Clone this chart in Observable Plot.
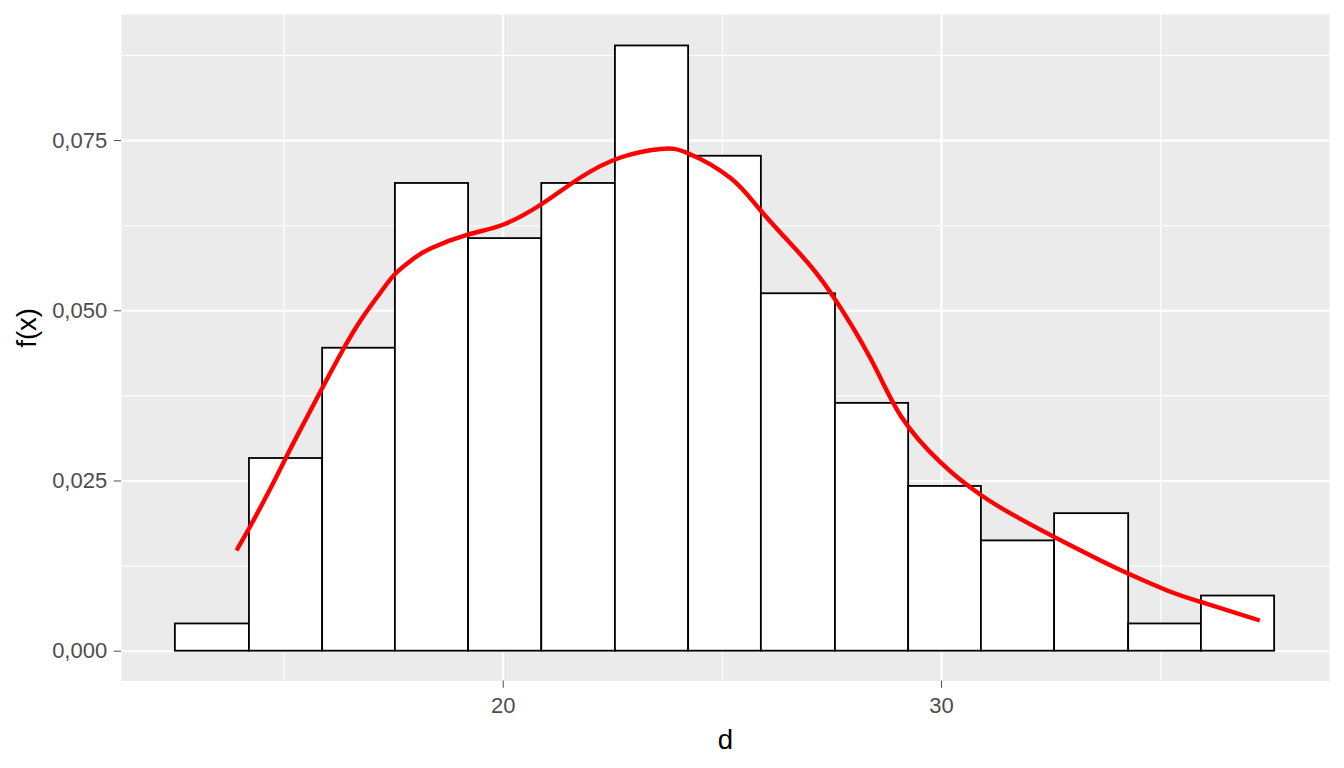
<!DOCTYPE html>
<html>
<head>
<meta charset="utf-8">
<script src="https://cdn.jsdelivr.net/npm/d3@7"></script>
<script src="https://cdn.jsdelivr.net/npm/@observablehq/plot@0.6"></script>
<style>
  html, body { margin: 0; padding: 0; background: white; }
  #chart svg { display: block; }
</style>
</head>
<body>
<div id="chart"></div>
<script>
// Histogram bin edges (d) and densities f(x)
const binEdges = [12.52, 14.21, 15.88, 17.54, 19.21, 20.88, 22.56, 24.23, 25.89, 27.58, 29.25, 30.91, 32.58, 34.27, 35.93, 37.60];
const binDensity = [0.0040, 0.0283, 0.0445, 0.0687, 0.0606, 0.0687, 0.0889, 0.0727, 0.0525, 0.0364, 0.0242, 0.0162, 0.0202, 0.0040, 0.0081];

// Density curve
const curveX = [13.915, 14.212, 14.509, 14.805, 15.102, 15.422, 15.878, 16.334, 16.745, 17.201, 17.543, 17.931, 18.341, 19.208, 20.007, 20.897, 21.764, 22.677, 23.589, 24.228, 25.186, 25.893, 26.783, 27.467, 28.381, 29.065, 29.978, 30.913, 31.727, 32.578, 33.628, 34.267, 35.149, 35.932, 37.262];
const curveY = [0.01479, 0.01817, 0.02170, 0.02537, 0.02919, 0.03315, 0.03873, 0.04417, 0.04858, 0.05269, 0.05548, 0.05754, 0.05915, 0.06121, 0.06268, 0.06576, 0.06958, 0.07252, 0.07377, 0.07311, 0.06950, 0.06458, 0.05827, 0.05269, 0.04299, 0.03462, 0.02772, 0.02287, 0.01968, 0.01675, 0.01332, 0.01137, 0.00892, 0.00720, 0.00451];

// Axis ticks / grid
const xMajor = [20, 30];
const xMinor = [15, 25, 35];
const yMajor = [0, 0.025, 0.05, 0.075];
const yMinor = [0.0125, 0.0375, 0.0625, 0.0875];
const xTitle = "d";
const yTitle = "f(x)";

const bars = binDensity.map((v, i) => ({x1: binEdges[i], x2: binEdges[i + 1], density: v}));
const curve = curveX.map((x, i) => ({x, y: curveY[i]}));

const chart = Plot.plot({
  width: 1344,
  height: 768,
  marginLeft: 121,
  marginRight: 15,
  marginTop: 14,
  marginBottom: 87.5,
  x: {domain: [11.291, 38.852], axis: null},
  y: {domain: [-0.00438, 0.09352], axis: null},
  style: {fontFamily: "Liberation Sans, Arial, sans-serif", background: "white"},
  marks: [
    Plot.frame({fill: "#EBEBEB", stroke: "none"}),
    Plot.ruleY(yMinor, {stroke: "white", strokeWidth: 1.1}),
    Plot.ruleX(xMinor, {stroke: "white", strokeWidth: 1.1}),
    Plot.ruleY(yMajor, {stroke: "white", strokeWidth: 2.1}),
    Plot.ruleX(xMajor, {stroke: "white", strokeWidth: 2.1}),
    Plot.rect(bars, {x1: "x1", x2: "x2", y1: 0, y2: "density", fill: "white", stroke: "black", strokeWidth: 1.8}),
    Plot.line(curve, {x: "x", y: "y", stroke: "red", strokeWidth: 4.4, curve: "natural", strokeLinecap: "butt"}),
    Plot.axisX(xMajor, {tickSize: 7.3, tickPadding: 9, fontSize: 22, color: "#4D4D4D", label: null}),
    Plot.axisY(yMajor, {tickSize: 7.3, tickPadding: 7, fontSize: 22, color: "#4D4D4D", label: null,
      tickFormat: d => d.toFixed(3).replace(".", ",")}),
    Plot.text([xTitle], {text: d => d, frameAnchor: "bottom", dy: 67.5, fontSize: 27.5, fill: "black"}),
    Plot.text([yTitle], {text: d => d, frameAnchor: "left", dx: -94.5, rotate: -90, fontSize: 27.5, fill: "black"})
  ]
});
document.getElementById("chart").appendChild(chart);
</script>
</body>
</html>
